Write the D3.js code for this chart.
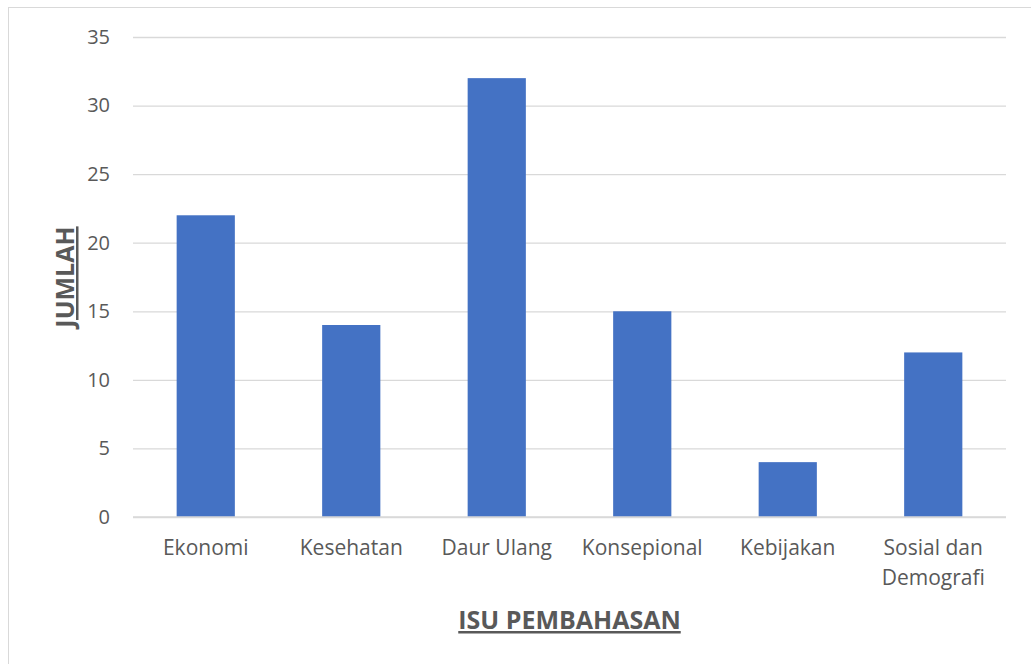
<!DOCTYPE html>
<meta charset="utf-8">
<script src="https://d3js.org/d3.v7.min.js"></script>
<style>
  body { margin: 0; background: #fff; }
  text { font-family: "Open Sans", "Noto Sans", sans-serif; fill: #595959; }
</style>
<div id="chart"></div>
<script>

// data
var categories = ["Ekonomi", "Kesehatan", "Daur Ulang", "Konsepional", "Kebijakan", "Sosial dan Demografi"];
var values = [22, 14, 32, 15, 4, 12];
var yTicks = [0, 5, 10, 15, 20, 25, 30, 35];

var W = 1031, H = 664;
var margin = {top: 37, right: 25, bottom: 147, left: 133},
    width = W - margin.left - margin.right,
    height = H - margin.top - margin.bottom;

var root = d3.select("#chart").append("svg")
    .attr("width", W)
    .attr("height", H);

// outer chart border
root.append("rect")
    .attr("x", 8.5).attr("y", 7.5)
    .attr("width", W + 10).attr("height", H + 10)
    .attr("fill", "none")
    .attr("stroke", "#d9d9d9");

var svg = root.append("g")
    .attr("transform", "translate(" + margin.left + "," + margin.top + ")");

var x = d3.scaleBand()
    .domain(categories)
    .range([0, width])
    .paddingInner(0.6)
    .paddingOuter(0.3);

var y = d3.scaleLinear()
    .domain([0, 35])
    .range([height, 0]);

// gridlines
svg.append("g")
  .call(d3.axisLeft(y).tickValues(yTicks).tickSize(-width).tickFormat(""))
  .call(function(g) { g.select(".domain").remove(); })
  .selectAll("line")
    .attr("stroke", "#d9d9d9")
    .attr("stroke-width", 1.3);

// y tick labels
svg.append("g")
  .call(d3.axisLeft(y).tickValues(yTicks).tickSize(0).tickPadding(23))
  .call(function(g) { g.select(".domain").remove(); })
  .selectAll("text")
    .style("font-size", "20px")
    .attr("fill", "#595959");

// bars
svg.selectAll(".bar")
  .data(values)
  .enter()
  .append("rect")
    .attr("class", "bar")
    .attr("x", function(d, i) { return x(categories[i]); })
    .attr("y", function(d) { return y(d); })
    .attr("width", x.bandwidth())
    .attr("height", function(d) { return height - y(d); })
    .attr("fill", "#4472c4");

// baseline
svg.append("line")
    .attr("x1", 0).attr("x2", width)
    .attr("y1", y(0)).attr("y2", y(0))
    .attr("stroke", "#d9d9d9")
    .attr("stroke-width", 1.3);

// x labels (wrapped)
var wraps = {"Sosial dan Demografi": ["Sosial dan", "Demografi"]};
categories.forEach(function(c) {
  var lines = wraps[c] || [c];
  var t = svg.append("text")
      .attr("x", x(c) + x.bandwidth() / 2)
      .attr("y", height + 38)
      .attr("text-anchor", "middle")
      .style("font-size", "21px");
  lines.forEach(function(l, i) {
    t.append("tspan")
      .attr("x", x(c) + x.bandwidth() / 2)
      .attr("dy", i === 0 ? 0 : 30)
      .text(l);
  });
});

// axis titles
svg.append("text")
    .attr("x", width / 2)
    .attr("y", height + 112)
    .attr("text-anchor", "middle")
    .style("font-size", "25px")
    .style("font-weight", "bold")
    .style("text-decoration", "underline")
    .text("ISU PEMBAHASAN");

svg.append("text")
    .attr("transform", "rotate(-90)")
    .attr("x", -height / 2)
    .attr("y", -59)
    .attr("text-anchor", "middle")
    .style("font-size", "25px")
    .style("font-weight", "bold")
    .style("text-decoration", "underline")
    .text("JUMLAH");

</script>
